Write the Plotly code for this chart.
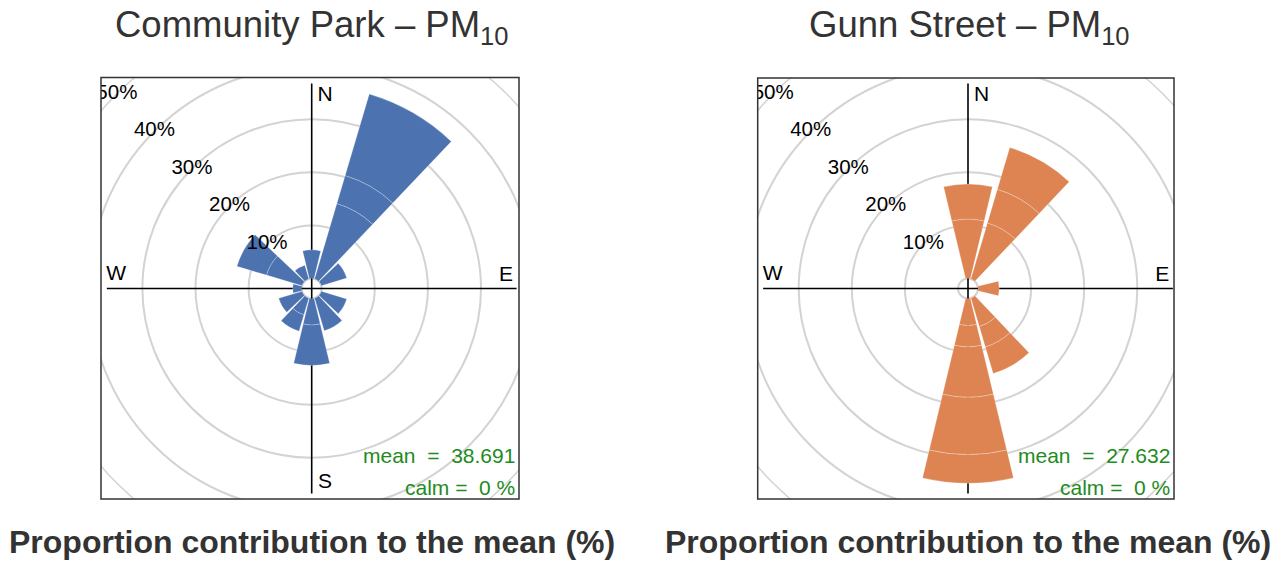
import plotly.graph_objects as go

# ---------------- data ----------------
directions = [0, 30, 60, 90, 120, 150, 180, 210, 240, 270, 300, 330]

# Community Park - PM10: contribution (%) of each concentration interval (stacked)
park_int1 = [5.4, 14.8, 5.0, None, 5.0, 6.4, 5.0, 3.3, 4.6, 1.7, 7.0, 2.7]
park_int2 = [None, 5.5, None, None, None, None, 7.6, 3.2, None, None, 5.8, None]
park_int3 = [None, 16.0, None, None, None, None, None, None, None, None, None, None]

# Gunn Street - PM10
gunn_int1 = [11.2, 11.0, None, 4.0, None, 5.6, 5.1, None, None, None, None, None]
gunn_int2 = [6.6, 6.6, None, None, None, 4.0, 4.0, None, None, None, None, None]
gunn_int3 = [None, 8.2, None, None, None, 5.2, 9.5, None, None, None, None, None]
gunn_int4 = [None, None, None, None, None, None, 10.8, None, None, None, None, None]
gunn_int5 = [None, None, None, None, None, None, 5.4, None, None, None, None, None]

panel_titles = ["Community Park – PM<sub>10</sub>", "Gunn Street – PM<sub>10</sub>"]
panel_means = ["38.691", "27.632"]
panel_calm = ["0", "0"]
bar_colors = ["#4C72B0", "#DD8452"]

ring_values = [0, 10, 20, 30, 40, 50]
ring_label_values = [10, 20, 30, 40, 50]
ring_labels = ["10%", "20%", "30%", "40%", "50%"]

compass_labels = ["N", "E", "S", "W"]
compass_r = [34.5, 34.8, 34.8, 35.0]
compass_theta = [4.0, 86.1, 176.1, 273.9]
# the S label of Gunn Street is hidden beneath its long southerly wedge
compass_shown = [[True, True, True, True], [True, True, False, True]]
axis_extent = 36.7

x_label = "Proportion contribution to the mean (%)"

# ---------------- layout geometry ----------------
W, H = 1280, 564
R = 275.5          # outer radius (px) of the polar area = 50 %
hole_px = 10.0     # radius (px) of the calm circle = 0 %
r_max = 50
r_min = -r_max * hole_px / (R - hole_px)   # same scale for the base layer without a hole
centers_x = [311.7, 968.0]
boxes = [(101, 77.5, 519, 499), (757.7, 78, 1174, 499)]

FONT = "Liberation Sans, Arial, sans-serif"
GRID = "#d3d3d3"
GREEN = "#228B22"
DARK = "#333333"

fig = go.Figure()

panel_stacks = [
    [park_int1, park_int2, park_int3],
    [gunn_int1, gunn_int2, gunn_int3, gunn_int4, gunn_int5],
]

polar_layouts = {}
for p in range(2):
    base_name = "polar" if p == 0 else f"polar{2 * p + 1}"
    over_name = f"polar{2 * p + 2}"
    cx = centers_x[p]
    dom = dict(x=[(cx - R) / W, (cx + R) / W], y=[0, 2 * R / H])

    polar_layouts[base_name] = dict(
        domain=dom,
        bgcolor="white",
        radialaxis=dict(range=[r_min, r_max], tickvals=ring_values, showticklabels=False,
                        ticks="", showline=False, gridcolor=GRID, gridwidth=1.5),
        angularaxis=dict(rotation=90, direction="clockwise", showgrid=False,
                         showticklabels=False, ticks="", showline=True,
                         linecolor=GRID, linewidth=1.5),
    )
    polar_layouts[over_name] = dict(
        domain=dom,
        hole=hole_px / R,
        bgcolor="rgba(0,0,0,0)",
        barmode="overlay",
        radialaxis=dict(range=[0, r_max], showgrid=False, showticklabels=False,
                        ticks="", showline=False),
        angularaxis=dict(rotation=90, direction="clockwise", showgrid=False,
                         showticklabels=False, ticks="", showline=False),
    )

    # compass cross lines (under the bars)
    fig.add_trace(go.Scatterpolar(
        r=[axis_extent, axis_extent, None, axis_extent, axis_extent],
        theta=[0, 180, None, 90, 270],
        mode="lines", line=dict(color="black", width=1.6),
        subplot=base_name, hoverinfo="skip", showlegend=False))
    # compass labels (under the bars)
    idx = [i for i in range(4) if compass_shown[p][i]]
    fig.add_trace(go.Scatterpolar(
        r=[compass_r[i] for i in idx], theta=[compass_theta[i] for i in idx],
        mode="text", text=[compass_labels[i] for i in idx],
        textposition="middle center",
        textfont=dict(family=FONT, size=21, color="black"),
        subplot=base_name, hoverinfo="skip", showlegend=False))

    # stacked wedges: each interval starts where the previous ones end
    cumulative = [0.0] * len(directions)
    for level in panel_stacks[p]:
        r_vals, bases = [], []
        for i, v in enumerate(level):
            if v is None:
                r_vals.append(None)
                bases.append(None)
            else:
                r_vals.append(v)
                bases.append(cumulative[i])
                cumulative[i] += v
        fig.add_trace(go.Barpolar(
            r=r_vals, base=bases, theta=directions, width=27,
            marker=dict(color=bar_colors[p],
                        line=dict(color="rgba(255,255,255,0.35)", width=0.7)),
            subplot=over_name, hoverinfo="skip", showlegend=False))

    # ring labels (above the bars)
    fig.add_trace(go.Scatterpolar(
        r=ring_label_values, theta=[315] * len(ring_label_values), mode="text",
        text=ring_labels, textposition="middle center",
        textfont=dict(family=FONT, size=20.5, color="black"),
        subplot=over_name, hoverinfo="skip", showlegend=False))

# ---------------- masks & frames ----------------
shapes = []
mask_rects = [
    (0, 0, boxes[0][0], H),
    (boxes[0][2], 0, boxes[1][0], H),
    (boxes[1][2], 0, W, H),
    (0, 0, W, min(boxes[0][1], boxes[1][1])),
    (0, max(boxes[0][3], boxes[1][3]), W, H),
]
for (x0, y0, x1, y1) in mask_rects:
    shapes.append(dict(type="rect", xref="paper", yref="paper", layer="above",
                       x0=x0 / W, x1=x1 / W, y0=1 - y1 / H, y1=1 - y0 / H,
                       fillcolor="white", line=dict(width=0)))
for (x0, y0, x1, y1) in boxes:
    shapes.append(dict(type="rect", xref="paper", yref="paper", layer="above",
                       x0=x0 / W, x1=x1 / W, y0=1 - y1 / H, y1=1 - y0 / H,
                       fillcolor="rgba(0,0,0,0)", line=dict(color=DARK, width=1.5)))

# ---------------- annotations ----------------
annotations = []
title_x = [312, 969]
for p in range(2):
    annotations.append(dict(
        text=panel_titles[p], x=title_x[p] / W, y=1 - 27.5 / H, xref="paper", yref="paper",
        xanchor="center", yanchor="middle", showarrow=False,
        font=dict(family=FONT, size=36.5, color=DARK)))
    annotations.append(dict(
        text="<b>" + x_label + "</b>", x=centers_x[p] / W, y=1 - 542 / H,
        xref="paper", yref="paper", xanchor="center", yanchor="middle", showarrow=False,
        font=dict(family=FONT, size=32, color=DARK)))
    right_edge = boxes[p][2] - 2
    annotations.append(dict(
        text="mean  =  " + panel_means[p], x=right_edge / W, y=1 - 455 / H,
        xref="paper", yref="paper", xanchor="right", yanchor="middle", showarrow=False,
        font=dict(family=FONT, size=21, color=GREEN)))
    annotations.append(dict(
        text="calm =  " + panel_calm[p] + " %", x=right_edge / W, y=1 - 487 / H,
        xref="paper", yref="paper", xanchor="right", yanchor="middle", showarrow=False,
        font=dict(family=FONT, size=21, color=GREEN)))

fig.update_layout(
    width=W, height=H,
    margin=dict(l=0, r=0, t=0, b=0),
    paper_bgcolor="white",
    showlegend=False,
    font=dict(family=FONT),
    shapes=shapes,
    annotations=annotations,
    **polar_layouts,
)

fig.write_html("out.html", config={"displayModeBar": False},
               post_script="document.body.style.margin='0';")
